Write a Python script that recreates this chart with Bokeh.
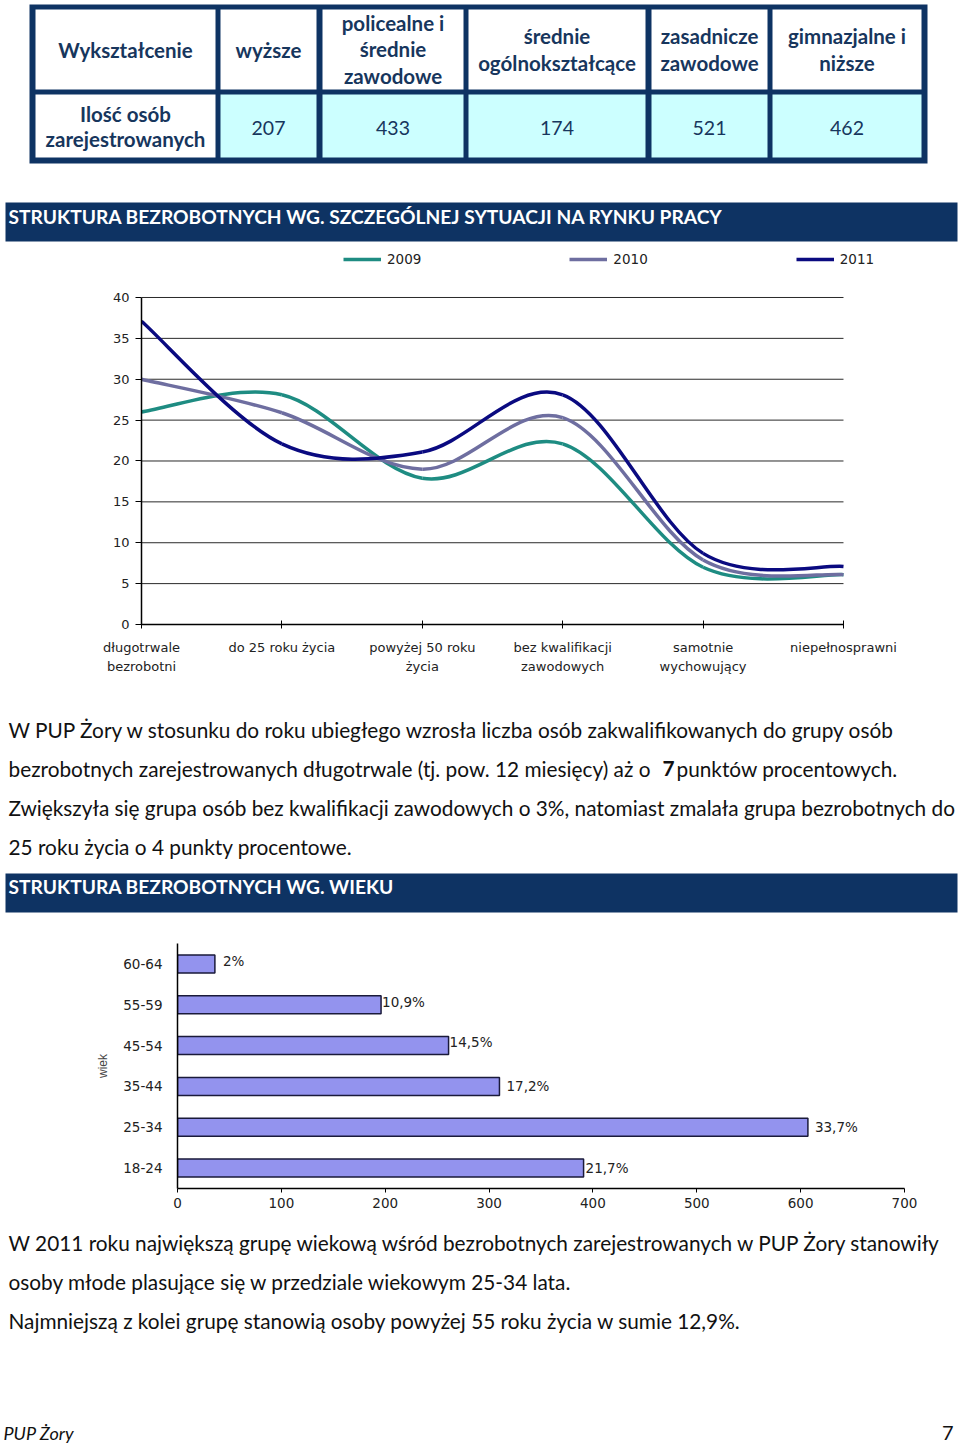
from bokeh.plotting import figure
from bokeh.models import Range1d, FactorRange, FixedTicker, Legend, LegendItem
from bokeh.core.properties import value
from bokeh.embed import file_html
from bokeh.resources import INLINE

# ---------------- data ----------------
edu_header = ["Wykształcenie", "wyższe", "policealne i\nśrednie\nzawodowe",
              "średnie\nogólnokształcące", "zasadnicze\nzawodowe", "gimnazjalne i\nniższe"]
edu_row_label = "Ilość osób\nzarejestrowanych"
edu_counts = [207, 433, 174, 521, 462]

situation_title = "STRUKTURA BEZROBOTNYCH WG. SZCZEGÓLNEJ SYTUACJI NA RYNKU PRACY"
situation_categories = ["długotrwale\nbezrobotni", "do 25 roku życia", "powyżej 50 roku\nżycia",
                        "bez kwalifikacji\nzawodowych", "samotnie\nwychowujący", "niepełnosprawni"]
series_years = ["2009", "2010", "2011"]
share_2009 = [26.0, 28.1, 17.9, 22.1, 7.0, 6.1]
share_2010 = [30.0, 25.9, 19.0, 25.3, 7.9, 6.1]
share_2011 = [37.1, 22.1, 21.1, 28.1, 8.7, 7.1]
y_ticks = [0, 5, 10, 15, 20, 25, 30, 35, 40]

para1 = ["W PUP Żory w stosunku do roku ubiegłego wzrosła liczba osób zakwalifikowanych do grupy osób",
         "bezrobotnych zarejestrowanych długotrwale (tj. pow. 12 miesięcy)  aż o",
         "Zwiększyła się grupa osób bez kwalifikacji zawodowych o 3%, natomiast zmalała grupa bezrobotnych do",
         "25 roku życia o 4 punkty procentowe."]
para1_bold = "7"
para1_tail = "punktów procentowych."

age_title = "STRUKTURA BEZROBOTNYCH WG. WIEKU"
age_groups = ["18-24", "25-34", "35-44", "45-54", "55-59", "60-64"]
age_counts = [391, 607, 310, 261, 196, 36]
age_pct_labels = ["21,7%", "33,7%", "17,2%", "14,5%", "10,9%", "2%"]
age_ticks = [0, 100, 200, 300, 400, 500, 600, 700]

para2 = ["W 2011 roku największą grupę wiekową wśród bezrobotnych zarejestrowanych w PUP Żory stanowiły",
         "osoby młode plasujące się w przedziale wiekowym 25-34 lata.",
         "Najmniejszą z kolei grupę stanowią osoby powyżej 55 roku życia w sumie 12,9%."]
footer_left = "PUP Żory"
footer_right = "7"

# ---------------- styles ----------------
NAVY = "#0E3363"
TXT_NAVY = "#17365D"
CYAN = "#CCFFFF"
FONT = "Lato"
CHART_FONT = "DejaVu Sans"
BODY_SIZE = "20.8px"
W = 960


def canvas(y_top, y_bot):
    p = figure(width=W, height=y_bot - y_top, x_range=Range1d(0, W), y_range=Range1d(y_bot, y_top),
               output_backend="svg", toolbar_location=None, min_border=0,
               x_axis_type=None, y_axis_type=None)
    p.outline_line_color = None
    p.grid.visible = False
    return p


# ---------------- top: table + header ----------------
top = canvas(0, 244)
col_left = [35, 220, 322, 468, 651, 772]
col_right = [215, 316, 463, 645, 767, 921]
top.quad(left=29, right=927, top=4, bottom=163, fill_color=NAVY, line_color=None)
top.quad(left=col_left, right=col_right, top=[9] * 6, bottom=[89] * 6, fill_color="white", line_color=None)
top.quad(left=col_left, right=col_right, top=[94] * 6, bottom=[157] * 6,
         fill_color=["white"] + [CYAN] * 5, line_color=None)
cx = [(a + b) / 2 for a, b in zip(col_left, col_right)]
top.text(x=cx, y=[49] * 6, text=edu_header, text_align="center", text_baseline="middle",
         text_font=value(FONT), text_font_style="bold", text_font_size="20.5px",
         text_color=TXT_NAVY, text_line_height=1.10)
top.text(x=[cx[0]], y=[126], text=[edu_row_label], text_align="center", text_baseline="middle",
         text_font=value(FONT), text_font_style="bold", text_font_size="20.5px",
         text_color=TXT_NAVY, text_line_height=1.06)
top.text(x=cx[1:], y=[127] * 5, text=[str(v) for v in edu_counts], text_align="center",
         text_baseline="middle", text_font=value(FONT), text_font_size="19.5px", text_color=TXT_NAVY)
top.quad(left=5, right=957, top=202, bottom=241, fill_color=NAVY, line_color=None)
top.text(x=[8], y=[216], text=[situation_title], text_align="left", text_baseline="middle",
         text_font=value(FONT), text_font_style="bold", text_font_size="19.2px", text_color="white")

# ---------------- line chart ----------------
# frame spans a little beyond the last category so that the legend's last label is not clipped;
# the axes and the grid lines stay bounded to the data extent (0..5, 0..40)
xi = list(range(len(situation_categories)))
lc = figure(width=W, height=446, x_range=Range1d(0, 5.3348), y_range=Range1d(0, 46.36),
            output_backend="svg", toolbar_location=None)
lc.min_border_left = 141
lc.min_border_right = 70
lc.min_border_top = 1
lc.min_border_bottom = 66
lc.outline_line_color = None
lc.grid.visible = False
lc.segment(x0=[xi[0]] * len(y_ticks), x1=[xi[-1]] * len(y_ticks), y0=y_ticks, y1=y_ticks,
           line_color="#2a2a2a", line_width=1)
lc.yaxis.ticker = FixedTicker(ticks=y_ticks)
lc.yaxis.bounds = (0, 40)
lc.yaxis.major_tick_out = 6
lc.yaxis.major_tick_in = 0
lc.yaxis.minor_tick_line_color = None
lc.yaxis.major_label_standoff = 6
lc.yaxis.axis_line_color = "black"
lc.yaxis.axis_line_width = 1.5
lc.yaxis.major_label_text_font = CHART_FONT
lc.yaxis.major_label_text_font_size = "13px"
lc.yaxis.major_label_text_color = "#222222"
lc.xaxis.ticker = FixedTicker(ticks=xi)
lc.xaxis.bounds = (xi[0], xi[-1])
lc.xaxis.major_label_overrides = {i: c for i, c in zip(xi, situation_categories)}
lc.xaxis.major_tick_in = 4
lc.xaxis.major_tick_out = 4
lc.xaxis.minor_tick_line_color = None
lc.xaxis.axis_line_width = 1.5
lc.xaxis.major_label_standoff = 11
lc.xaxis.major_label_text_font = CHART_FONT
lc.xaxis.major_label_text_font_size = "13px"
lc.xaxis.major_label_text_color = "#222222"
lc.xaxis.major_label_text_line_height = 1.32

colors = ["#1E8C82", "#6E6EA0", "#0A0A80"]
items = []
for name, vals, col in zip(series_years, [share_2009, share_2010, share_2011], colors):
    n = len(vals)
    x0, y0, x1, y1, cx0, cy0, cx1, cy1 = [], [], [], [], [], [], [], []
    for i in range(n - 1):
        pm = max(i - 1, 0)
        pp = min(i + 2, n - 1)
        x0.append(xi[i]); y0.append(vals[i])
        x1.append(xi[i + 1]); y1.append(vals[i + 1])
        cx0.append(xi[i] + (xi[i + 1] - xi[pm]) / 6); cy0.append(vals[i] + (vals[i + 1] - vals[pm]) / 6)
        cx1.append(xi[i + 1] - (xi[pp] - xi[i]) / 6); cy1.append(vals[i + 1] - (vals[pp] - vals[i]) / 6)
    lc.bezier(x0=x0, y0=y0, x1=x1, y1=y1, cx0=cx0, cy0=cy0, cx1=cx1, cy1=cy1,
              line_color=col, line_width=3.5, line_cap="butt")
    r = lc.line(x=xi, y=vals, line_color=col, line_width=3.5, visible=False)
    items.append(LegendItem(label=name, renderers=[r]))
leg = Legend(items=items, orientation="horizontal", location=(202, 355), glyph_width=38,
             label_standoff=6, spacing=148, padding=0, margin=0, border_line_color=None,
             background_fill_alpha=0, label_text_font=CHART_FONT, label_text_font_size="13.5px",
             label_text_color="#222222")
lc.add_layout(leg)

# ---------------- middle text ----------------
mid = canvas(690, 925)
para_y = [729, 768, 807, 846]
mid.text(x=[8] * 4, y=para_y, text=para1, text_align="left", text_baseline="middle",
         text_font=value(FONT), text_font_size=BODY_SIZE, text_color="#111111")
mid.text(x=[662], y=[para_y[1]], text=[para1_bold], text_align="left", text_baseline="middle",
         text_font=value(FONT), text_font_style="bold", text_font_size=BODY_SIZE, text_color="#111111")
mid.text(x=[676], y=[para_y[1]], text=[para1_tail], text_align="left", text_baseline="middle",
         text_font=value(FONT), text_font_size=BODY_SIZE, text_color="#111111")
mid.quad(left=5, right=957, top=873, bottom=912, fill_color=NAVY, line_color=None)
mid.text(x=[8], y=[886], text=[age_title], text_align="left", text_baseline="middle",
         text_font=value(FONT), text_font_style="bold", text_font_size="19.2px", text_color="white")

# ---------------- bar chart ----------------
bc = figure(width=W, height=300, x_range=Range1d(0, 700),
            y_range=FactorRange(*age_groups, range_padding=0),
            output_backend="svg", toolbar_location=None)
bc.min_border_left = 177
bc.min_border_right = 56
bc.min_border_top = 18
bc.min_border_bottom = 37
bc.outline_line_color = None
bc.grid.visible = False
bc.hbar(y=age_groups, right=age_counts, height=0.44, fill_color="#9393EE",
        line_color="#1A1A3A", line_width=1.5)
label_dx = [2, 7, 7, 1, 1, 8]
label_dy = [0, 0, 0, -4, -3, -3]
bc.text(x=age_counts, y=age_groups, text=age_pct_labels, x_offset=label_dx, y_offset=label_dy,
        text_align="left", text_baseline="middle", text_font=value(CHART_FONT),
        text_font_size="13.5px", text_color="#222222")
bc.xaxis.ticker = FixedTicker(ticks=age_ticks)
bc.xaxis.major_tick_out = 4
bc.xaxis.major_tick_in = 0
bc.xaxis.minor_tick_line_color = None
bc.xaxis.axis_line_width = 1.5
bc.xaxis.major_label_standoff = 5
bc.xaxis.major_label_text_font = CHART_FONT
bc.xaxis.major_label_text_font_size = "13.5px"
bc.xaxis.major_label_text_color = "#222222"
bc.yaxis.major_tick_out = 0
bc.yaxis.major_tick_in = 0
bc.yaxis.axis_line_width = 1.5
bc.yaxis.major_label_standoff = 15
bc.yaxis.major_label_text_font = CHART_FONT
bc.yaxis.major_label_text_font_size = "13.5px"
bc.yaxis.major_label_text_color = "#222222"
bc.yaxis.axis_label = "wiek"
bc.yaxis.axis_label_text_font = "Liberation Sans"
bc.yaxis.axis_label_text_font_style = "normal"
bc.yaxis.axis_label_text_font_size = "12px"
bc.yaxis.axis_label_standoff = 10

# ---------------- bottom text ----------------
bot = canvas(1225, 1443)
bot.text(x=[8] * 3, y=[1242, 1281, 1320], text=para2, text_align="left", text_baseline="middle",
         text_font=value(FONT), text_font_size=BODY_SIZE, text_color="#111111")
bot.text(x=[3], y=[1432], text=[footer_left], text_align="left", text_baseline="middle",
         text_font=value(FONT), text_font_style="italic", text_font_size="18px", text_color="#111111")
bot.text(x=[953], y=[1432], text=[footer_right], text_align="right", text_baseline="middle",
         text_font=value(FONT), text_font_size="20px", text_color="#111111")

# separate roots: each figure keeps its own frame (no cross-figure frame alignment)
open("out.html", "w").write(file_html([top, lc, mid, bc, bot], INLINE))
